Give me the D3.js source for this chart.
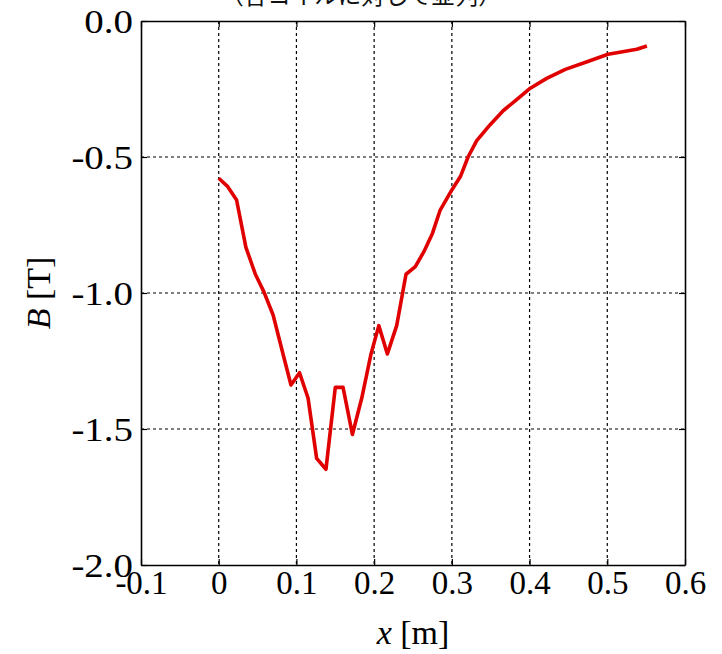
<!DOCTYPE html>
<html><head><meta charset="utf-8">
<script src="https://cdn.jsdelivr.net/npm/d3@7"></script>
<style>
body{margin:0;background:#fff;}
svg{display:block;}
</style></head>
<body>
<script>
const xValues = [0.000,0.011,0.023,0.035,0.047,0.058,0.070,0.082,0.093,0.104,0.115,0.126,0.138,0.150,0.160,0.172,0.184,0.196,0.206,0.217,0.229,0.241,0.253,0.264,0.275,0.285,0.300,0.311,0.321,0.332,0.349,0.366,0.383,0.401,0.422,0.446,0.474,0.501,0.516,0.538,0.551];
const bValues = [-0.578,-0.607,-0.658,-0.832,-0.930,-0.995,-1.081,-1.216,-1.338,-1.293,-1.387,-1.608,-1.648,-1.347,-1.347,-1.520,-1.387,-1.224,-1.120,-1.224,-1.120,-0.931,-0.903,-0.848,-0.781,-0.695,-0.621,-0.572,-0.499,-0.440,-0.382,-0.330,-0.290,-0.247,-0.211,-0.178,-0.150,-0.122,-0.115,-0.104,-0.092];
const xTicks = [-0.1,0,0.1,0.2,0.3,0.4,0.5,0.6];
const xTickLabels = ["-0.1","0","0.1","0.2","0.3","0.4","0.5","0.6"];
const yTicks = [0,-0.5,-1.0,-1.5,-2.0];
const yTickLabels = ["0.0","-0.5","-1.0","-1.5","-2.0"];
const titleText = "（各コイルに対して並列）";

const W = 722, H = 654;
const L = 141, R = 685, T = 21, B = 565;
const svg = d3.select("body").append("svg").attr("width", W).attr("height", H);
const x = d3.scaleLinear().domain([-0.1, 0.6]).range([L, R]);
const y = d3.scaleLinear().domain([-2, 0]).range([B, T]);
const serif = "'Liberation Serif','Times New Roman',serif";

// title (clipped at top)
svg.append("text").attr("x", 361).attr("y", 4).attr("text-anchor", "middle")
  .attr("font-family", "'Noto Sans CJK JP',sans-serif").attr("font-size", 23.5).attr("fill", "#111")
  .text(titleText);

// grid
const grid = svg.append("g").attr("stroke", "#000").attr("stroke-width", 1.2).attr("stroke-dasharray", "3,3");
xTicks.slice(1, -1).forEach(v => grid.append("line").attr("x1", x(v)).attr("x2", x(v)).attr("y1", T).attr("y2", B));
yTicks.slice(1, -1).forEach(v => grid.append("line").attr("x1", L).attr("x2", R).attr("y1", y(v)).attr("y2", y(v)));

// axes with inward ticks
const fmtX = (d, i) => xTickLabels[i];
const fmtY = (d, i) => yTickLabels[i];
const gx = svg.append("g").attr("transform", `translate(0,${B})`)
  .call(d3.axisBottom(x).tickValues(xTicks).tickFormat(fmtX).tickSizeInner(-6).tickSizeOuter(0).tickPadding(9));
const gxt = svg.append("g").attr("transform", `translate(0,${T})`)
  .call(d3.axisTop(x).tickValues(xTicks).tickFormat("").tickSizeInner(-6).tickSizeOuter(0));
const gy = svg.append("g").attr("transform", `translate(${L},0)`)
  .call(d3.axisLeft(y).tickValues(yTicks).tickFormat(fmtY).tickSizeInner(-6).tickSizeOuter(0).tickPadding(9));
const gyr = svg.append("g").attr("transform", `translate(${R},0)`)
  .call(d3.axisRight(y).tickValues(yTicks).tickFormat("").tickSizeInner(-6).tickSizeOuter(0));
[gx, gxt, gy, gyr].forEach(g => {
  g.selectAll(".domain").attr("stroke", "#000").attr("stroke-width", 1.6);
  g.selectAll(".tick line").attr("stroke", "#000").attr("stroke-width", 1.2);
  g.selectAll("text").attr("font-family", serif).attr("font-size", 33).attr("fill", "#000");
});
gx.selectAll("text").attr("dy", "0.62em");
gy.selectAll("text").attr("dy", "0.35em").attr("x", -8 / 1.18).attr("transform", "scale(1.18,1)");

// line
const line = d3.line().x((d, i) => x(xValues[i])).y((d, i) => y(bValues[i]));
svg.append("path").datum(xValues).attr("d", line).attr("fill", "none")
  .attr("stroke", "#e00000").attr("stroke-width", 3.6).attr("stroke-linejoin", "round");

// axis titles
const xt = svg.append("text").attr("x", 413).attr("y", 644).attr("text-anchor", "middle")
  .attr("font-family", serif).attr("font-size", 34);
xt.append("tspan").attr("font-style", "italic").text("x");
xt.append("tspan").text(" [m]");
const yt = svg.append("text").attr("transform", "translate(50,293) rotate(-90)").attr("text-anchor", "middle")
  .attr("font-family", serif).attr("font-size", 34);
yt.append("tspan").attr("font-style", "italic").text("B");
yt.append("tspan").text(" [T]");
</script>
</body></html>
